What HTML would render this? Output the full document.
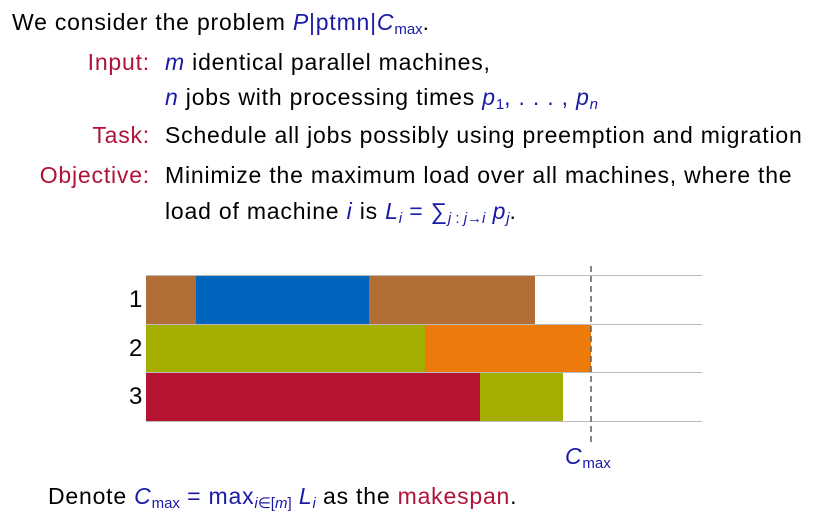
<!DOCTYPE html>
<html><head><meta charset="utf-8"><style>
body{margin:0;width:831px;height:521px;background:#fff;position:relative;overflow:hidden;font-family:"Liberation Sans","DejaVu Sans",sans-serif;font-size:23px;letter-spacing:0.8px;color:#000}
.t{position:absolute;white-space:nowrap}
.l{position:absolute;white-space:nowrap;right:681px;text-align:right}
.r{color:#b01238}.b{color:#1a1aa6}
i{font-style:italic}
sub{font-size:15px;vertical-align:-4px;line-height:0;letter-spacing:0}
.rect{position:absolute}
</style></head><body>
<div class="t" style="left:12px;top:9px">We consider the problem <span class="b"><i>P</i>|ptmn|<i>C</i><sub>max</sub></span>.</div>
<div class="l r" style="top:49px">Input:</div>
<div class="t" style="left:165px;top:49px"><span class="b"><i>m</i></span> identical parallel machines,</div>
<div class="t" style="left:165px;top:84px"><span class="b"><i>n</i></span> jobs with processing times <span class="b"><i>p</i><sub>1</sub>, . . . , <i>p<sub>n</sub></i></span></div>
<div class="l r" style="top:122px">Task:</div>
<div class="t" style="left:165px;top:122px">Schedule all jobs possibly using preemption and migration</div>
<div class="l r" style="top:162px">Objective:</div>
<div class="t" style="left:165px;top:162px">Minimize the maximum load over all machines, where the</div>
<div class="t" style="left:165px;top:198px">load of machine <span class="b"><i>i</i></span> is <span class="b"><i>L<sub>i</sub></i> = ∑<sub><i>j</i> : <i>j</i>→<i>i</i></sub> <i>p<sub>j</sub></i></span>.</div>

<div class="rect" style="left:146px;top:275px;width:556px;height:1px;background:#bbb"></div>
<div class="rect" style="left:146px;top:324px;width:556px;height:1px;background:#bbb"></div>
<div class="rect" style="left:146px;top:372px;width:556px;height:1px;background:#bbb"></div>
<div class="rect" style="left:146px;top:421px;width:556px;height:1px;background:#bbb"></div>

<div class="rect" style="left:146px;top:276px;width:50px;height:48px;background:#b26e35"></div>
<div class="rect" style="left:196px;top:276px;width:173px;height:48px;background:#0066bd"></div>
<div class="rect" style="left:369px;top:276px;width:166px;height:48px;background:#b26e35"></div>
<div class="rect" style="left:146px;top:325px;width:279px;height:47px;background:#a3ae00"></div>
<div class="rect" style="left:425px;top:325px;width:166px;height:47px;background:#ec7b0b"></div>
<div class="rect" style="left:146px;top:373px;width:334px;height:48px;background:#b51432"></div>
<div class="rect" style="left:480px;top:373px;width:83px;height:48px;background:#a3ae00"></div>

<svg class="rect" style="left:588px;top:266px" width="6" height="176"><line x1="3" y1="0" x2="3" y2="176" stroke="#666" stroke-width="1.6" stroke-dasharray="6,4"/></svg>
<div class="t" style="left:129px;top:286px;font-size:24px">1</div>
<div class="t" style="left:129px;top:335px;font-size:24px">2</div>
<div class="t" style="left:129px;top:383px;font-size:24px">3</div>
<div class="t b" style="left:565px;top:443px"><i>C</i><sub>max</sub></div>

<div class="t" style="left:48px;top:483px">Denote <span class="b"><i>C</i><sub>max</sub> = max<sub><i>i</i>∈[<i>m</i>]</sub> <i>L<sub>i</sub></i></span> as the <span class="r">makespan</span>.</div>
</body></html>
